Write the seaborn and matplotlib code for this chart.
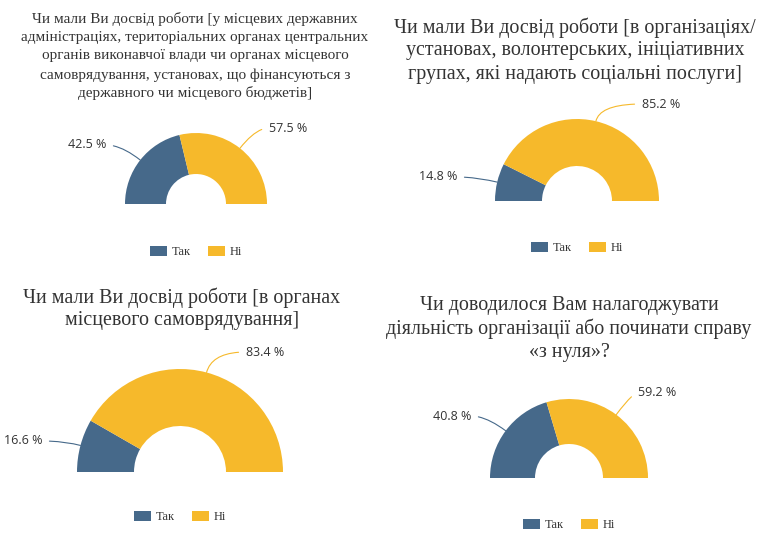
import matplotlib.pyplot as plt
import seaborn as sns
import numpy as np

# data
titles = [
    ["Чи мали Ви досвід роботи [у місцевих державних",
     "адміністраціях, територіальних органах центральних",
     "органів виконавчої влади чи органах місцевого",
     "самоврядування, установах, що фінансуються з",
     "державного чи місцевого бюджетів]"],
    ["Чи мали Ви досвід роботи [в організаціях/",
     "установах, волонтерських, ініціативних",
     "групах, які надають соціальні послуги]"],
    ["Чи мали Ви досвід роботи [в органах",
     "місцевого самоврядування]"],
    ["Чи доводилося Вам налагоджувати",
     "діяльність організації або починати справу",
     "«з нуля»?"],
]
tak = [42.5, 14.8, 16.6, 40.8]
ni = [57.5, 85.2, 83.4, 59.2]
legend_labels = ["Так", "Ні"]

colors = ["#46698a", "#f6b92b"]
textcolor = "#333333"

sns.set_theme(style="white")
plt.rcParams["font.family"] = ["Liberation Serif", "DejaVu Serif"]

W, H = 767, 540
fig = plt.figure(figsize=(W / 100, H / 100), dpi=100)

# layout in pixels (y from top)
centers = [(196, 204), (577, 201), (180, 472), (569, 478)]
radii = [(71, 30), (82, 35), (103, 46), (79, 34)]
title_x = [195, 575, 182, 569]
title_y0 = [18.5, 27.5, 297.5, 305.5]
title_dy = [18.75, 23.5, 23, 23.5]
title_size = [11, 14.4, 14.4, 14.4]
label_xy = [((106, 145), (269, 128)), ((457, 177), (642, 104)),
            ((42, 441), (246, 352)), ((471, 416), (638, 393))]
legend_y = [252, 248, 517, 525]

for i in range(4):
    cx, base = centers[i]
    R, r = radii[i]
    ax = fig.add_axes([(cx - R) / W, (H - base) / H, 2 * R / W, R / H])
    wedges, _ = ax.pie([tak[i], ni[i], tak[i] + ni[i]], startangle=180,
                       counterclock=False, radius=1,
                       colors=colors + ["none"],
                       wedgeprops=dict(width=1 - r / R, linewidth=0))
    ax.set_aspect("auto")
    ax.set_xlim(-1, 1)
    ax.set_ylim(0, 1)
    ax.axis("off")

    vals = [tak[i], ni[i]]
    for k in range(2):
        w = wedges[k]
        mid = (w.theta1 + w.theta2) / 2
        ex, ey = np.cos(np.radians(mid)), np.sin(np.radians(mid))
        lx, ly = label_xy[i][k]
        left = k == 0
        ax.annotate("{:.1f} %".format(vals[k]), xy=(ex, ey), xycoords="data",
                    xytext=(lx, H - ly), textcoords="figure pixels",
                    ha="right" if left else "left", va="center",
                    fontsize=9, family="Open Sans", color=textcolor,
                    arrowprops=dict(arrowstyle="-", color=colors[k], lw=0.8,
                                    connectionstyle="angle3,angleA=0,angleB={}".format(mid),
                                    relpos=(1, 0.5) if left else (0, 0.5),
                                    shrinkA=3, shrinkB=0))

    ax.legend(wedges[:2], legend_labels, loc="center",
              bbox_to_anchor=(cx / W, 1 - legend_y[i] / H),
              bbox_transform=fig.transFigure, ncol=2, frameon=False,
              prop=dict(family="Liberation Serif", size=9), labelcolor=textcolor,
              handlelength=1.35, handleheight=0.9, handletextpad=0.35,
              columnspacing=1.4)

    # title, one text per line
    for j, line in enumerate(titles[i]):
        ty = title_y0[i] + j * title_dy[i]
        fig.text(title_x[i] / W, 1 - ty / H, line, ha="center", va="center",
                 fontsize=title_size[i], color=textcolor)

fig.savefig("out.png", dpi=100, facecolor="white")
